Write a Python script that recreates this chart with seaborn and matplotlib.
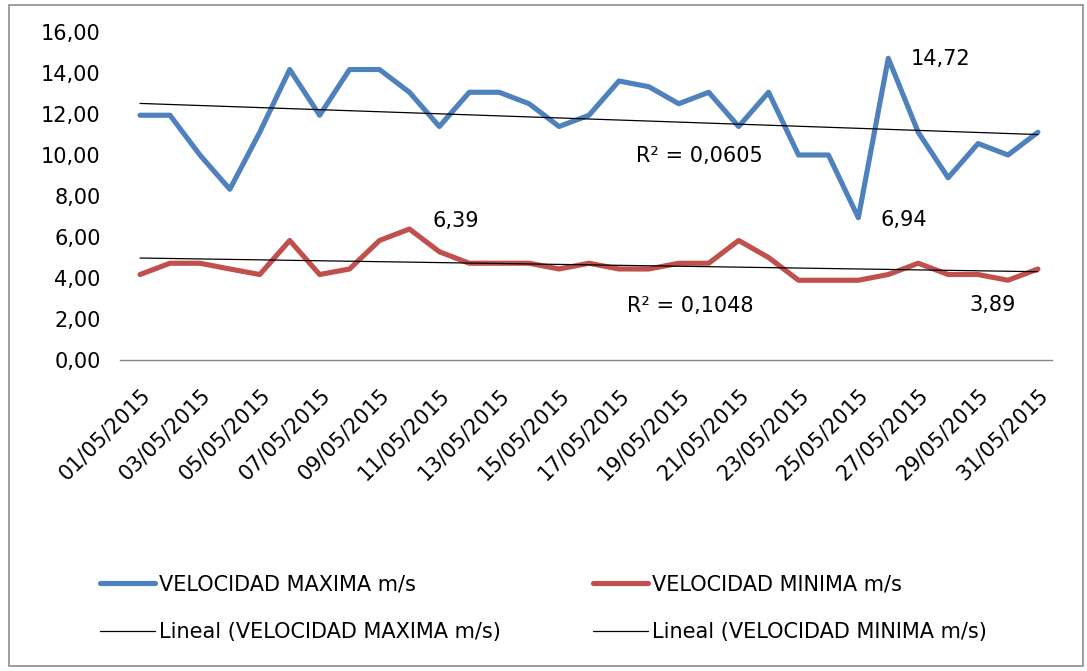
import matplotlib
matplotlib.use("Agg")
import matplotlib.pyplot as plt
from matplotlib.patches import Rectangle
from matplotlib.lines import Line2D
from matplotlib.ticker import FuncFormatter
import numpy as np
import pandas as pd
import seaborn as sns

# datos de mayo 2015 (m/s)
fechas = pd.date_range("2015-05-01", "2015-05-31", freq="D").strftime("%d/%m/%Y").tolist()
vel_max = [11.94, 11.94, 10.00, 8.33, 11.11, 14.17, 11.94, 14.17, 14.17, 13.06, 11.39,
           13.06, 13.06, 12.50, 11.39, 11.94, 13.61, 13.33, 12.50, 13.06, 11.39, 13.06,
           10.00, 10.00, 6.94, 14.72, 11.11, 8.89, 10.56, 10.00, 11.11]
vel_min = [4.17, 4.72, 4.72, 4.44, 4.17, 5.83, 4.17, 4.44, 5.83, 6.39, 5.28,
           4.72, 4.72, 4.72, 4.44, 4.72, 4.44, 4.44, 4.72, 4.72, 5.83, 5.00,
           3.89, 3.89, 3.89, 4.17, 4.72, 4.17, 4.17, 3.89, 4.44]
r2_textos = ["R² = 0,0605", "R² = 0,1048"]
series = ["VELOCIDAD MAXIMA m/s", "VELOCIDAD MINIMA m/s"]

AZUL = "#4F81BD"
ROJO = "#C0504D"
FS = 15


def coma(v, pos=None):
    return f"{v:.2f}".replace(".", ",")


def main():
    sns.set_style("white")
    plt.rcParams["font.family"] = ["DejaVu Sans"]
    plt.rcParams["text.color"] = "black"
    plt.rcParams["xtick.color"] = "black"
    plt.rcParams["ytick.color"] = "black"

    df = pd.DataFrame({"dia": np.arange(len(fechas)), "max": vel_max, "min": vel_min})

    fig = plt.figure(figsize=(10.87, 6.71), dpi=100)
    ax = fig.add_axes([120 / 1087, 1 - 360 / 671, 932 / 1087, 328 / 671])

    sns.lineplot(data=df, x="dia", y="max", color=AZUL, linewidth=3.7, ax=ax)
    sns.lineplot(data=df, x="dia", y="min", color=ROJO, linewidth=3.7, ax=ax)
    sns.regplot(data=df, x="dia", y="max", scatter=False, ci=None, color="black",
                line_kws={"linewidth": 0.9}, ax=ax)
    sns.regplot(data=df, x="dia", y="min", scatter=False, ci=None, color="black",
                line_kws={"linewidth": 0.9}, ax=ax)

    ax.set_xlim(-0.67, 30.47)
    ax.set_ylim(0, 16)
    ax.set_yticks(np.arange(0, 17, 2))
    ax.yaxis.set_major_formatter(FuncFormatter(coma))
    ax.set_xticks(df["dia"][::2])
    ax.set_xticklabels(fechas[::2], rotation=45, ha="right", va="top",
                       rotation_mode="anchor")
    ax.tick_params(axis="x", length=0, pad=18, labelsize=FS, labelcolor="black")
    ax.tick_params(axis="y", length=0, pad=14, labelsize=FS, labelcolor="black")
    ax.set_xlabel("")
    ax.set_ylabel("")
    for s in ["top", "right", "left"]:
        ax.spines[s].set_visible(False)
    ax.spines["bottom"].set_color("#868686")
    ax.spines["bottom"].set_linewidth(1.0)

    # etiquetas de datos
    ax.annotate(coma(vel_min[9]), (9, vel_min[9]), xytext=(46, 8), textcoords="offset pixels",
                ha="center", va="center", fontsize=FS)
    ax.annotate(coma(vel_max[25]), (25, vel_max[25]), xytext=(52, -1), textcoords="offset pixels",
                ha="center", va="center", fontsize=FS)
    ax.annotate(coma(vel_max[24]), (24, vel_max[24]), xytext=(45, -2), textcoords="offset pixels",
                ha="center", va="center", fontsize=FS)
    ax.annotate(coma(vel_min[29]), (29, vel_min[29]), xytext=(-15, -25), textcoords="offset pixels",
                ha="center", va="center", fontsize=FS)
    ax.text(18.7, 9.95, r2_textos[0], ha="center", va="center", fontsize=FS)
    ax.text(18.38, 2.63, r2_textos[1], ha="center", va="center", fontsize=FS)

    h1 = [Line2D([], [], color=AZUL, linewidth=3.7, solid_capstyle="round"),
          Line2D([], [], color="black", linewidth=0.9)]
    h2 = [Line2D([], [], color=ROJO, linewidth=3.7, solid_capstyle="round"),
          Line2D([], [], color="black", linewidth=0.9)]
    comunes = dict(loc="upper left", frameon=False, handlelength=2.65, handletextpad=0.2,
                   labelspacing=1.35, borderpad=0, borderaxespad=0, fontsize=FS,
                   labelcolor="black")
    fig.legend(handles=h1, labels=[series[0], f"Lineal ({series[0]})"],
               bbox_to_anchor=(100 / 1087, 1 - 574 / 671), **comunes)
    fig.legend(handles=h2, labels=[series[1], f"Lineal ({series[1]})"],
               bbox_to_anchor=(593 / 1087, 1 - 574 / 671), **comunes)

    fig.add_artist(Rectangle((9 / 1087, 5 / 671), 1074 / 1087, 661 / 671,
                             transform=fig.transFigure, fill=False,
                             edgecolor="#8c8c8c", linewidth=1.2))

    fig.savefig("out.png", dpi=100)


if __name__ == "__main__":
    main()
